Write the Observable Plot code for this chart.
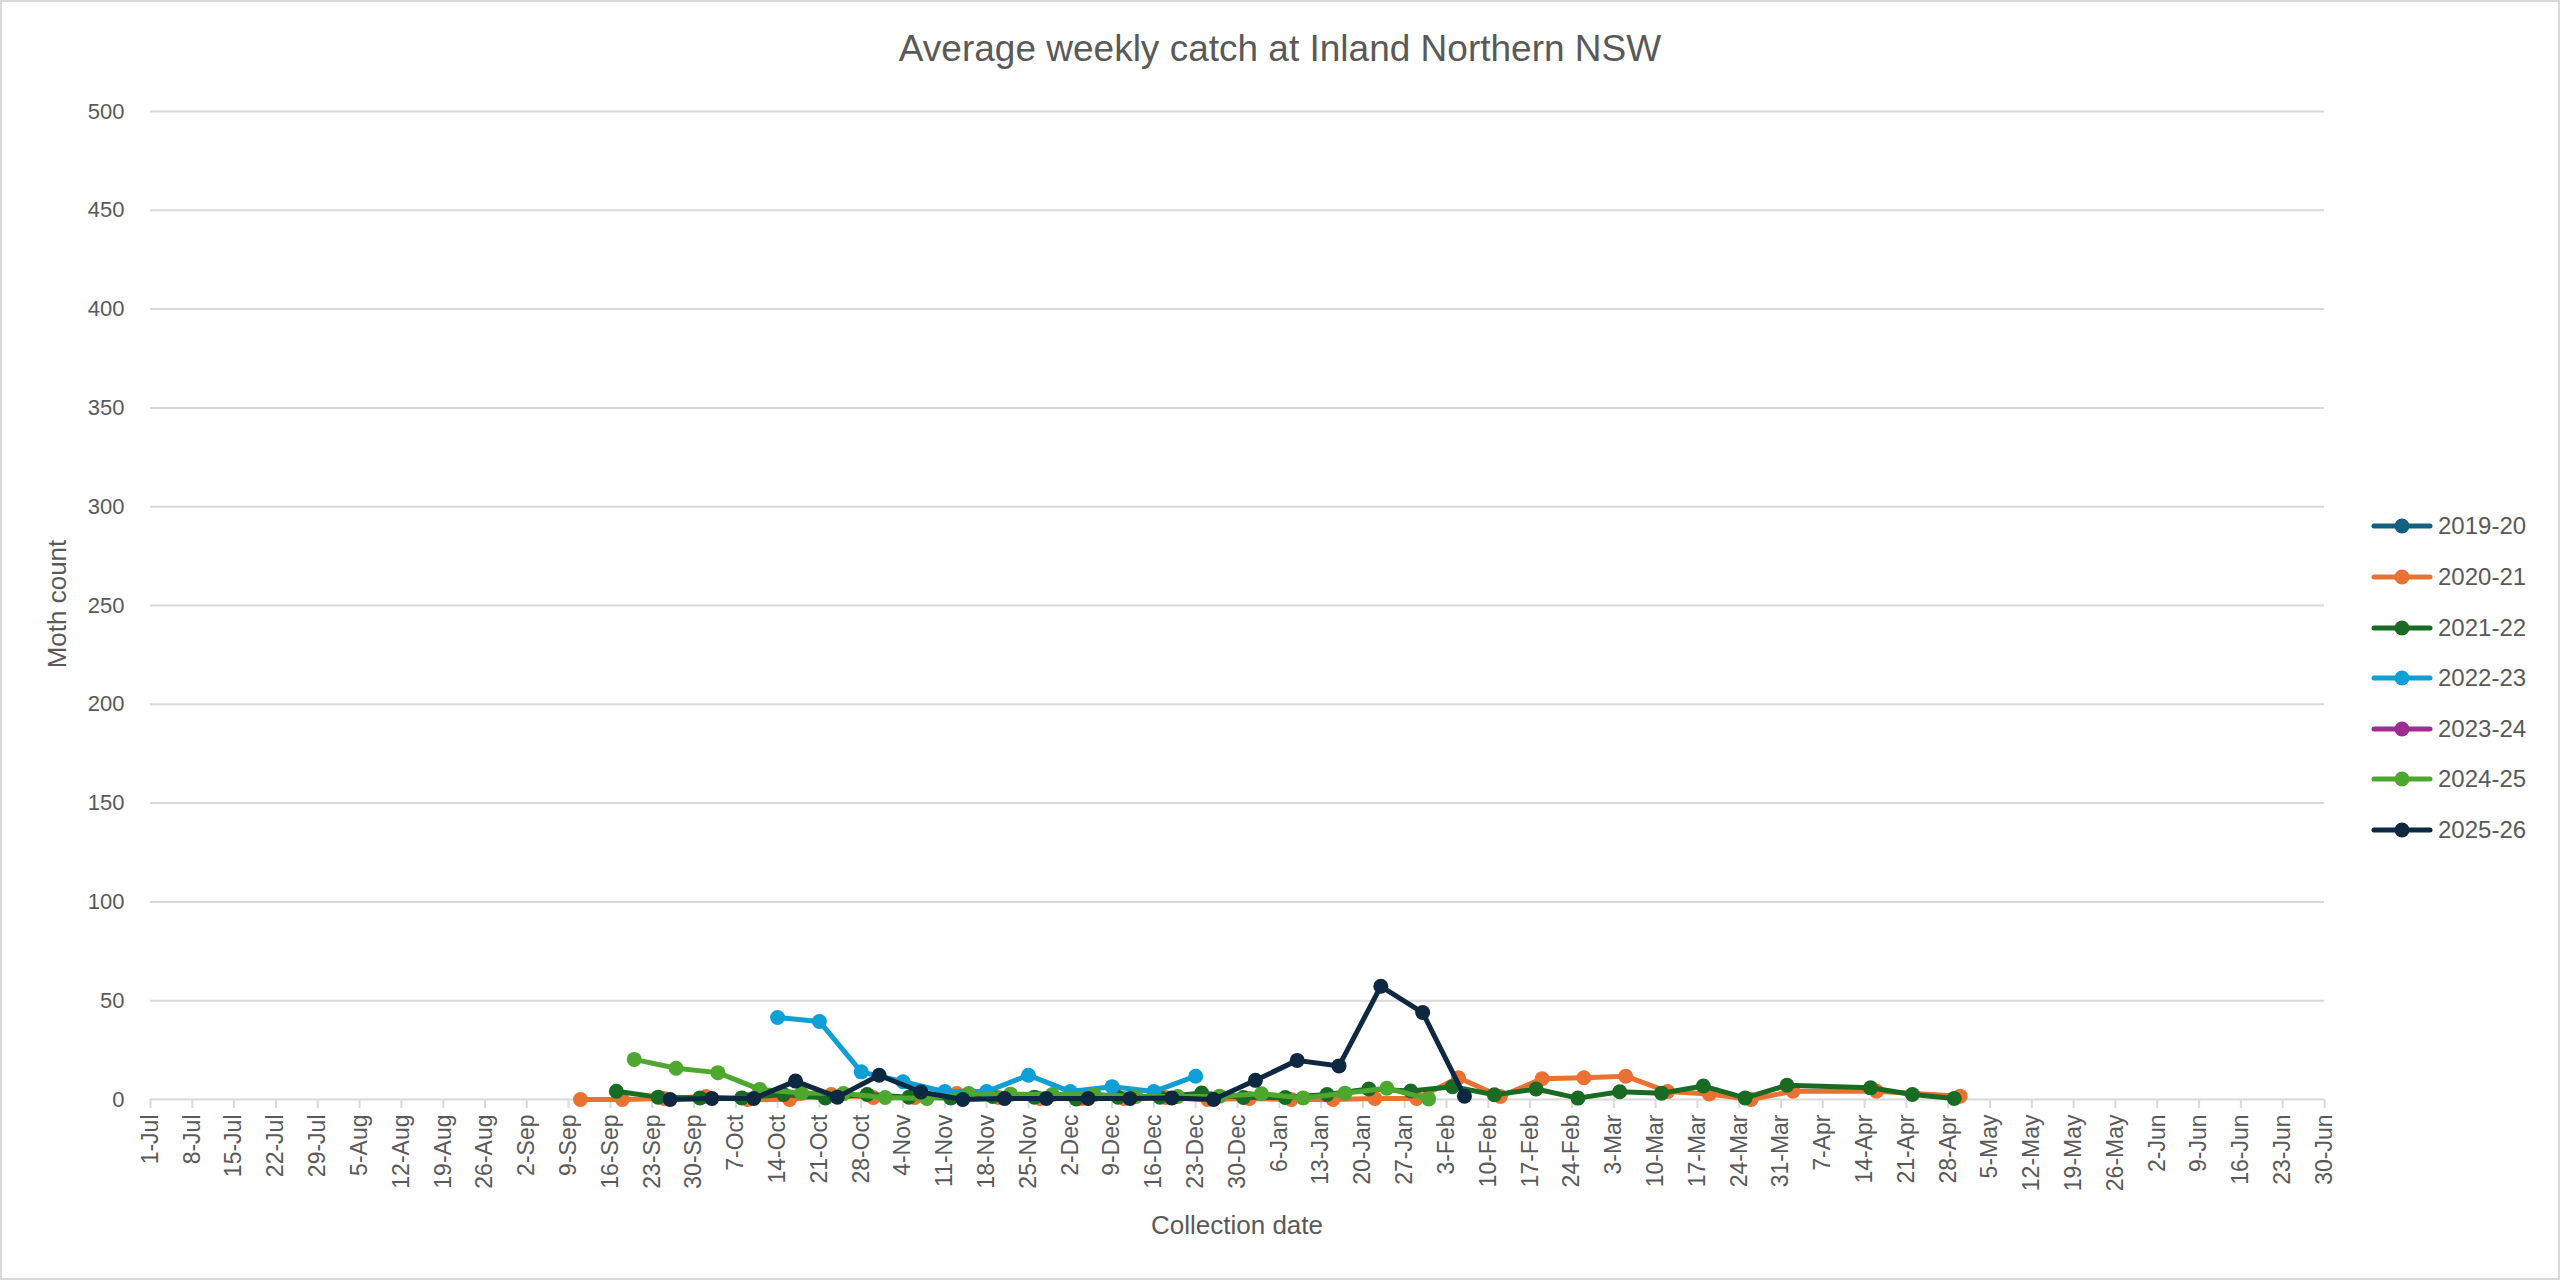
<!DOCTYPE html>
<html>
<head>
<meta charset="utf-8">
<script src="https://cdn.jsdelivr.net/npm/d3@7"></script>
<script src="https://cdn.jsdelivr.net/npm/@observablehq/plot@0.6"></script>
<style>
  html, body { margin: 0; padding: 0; background: #ffffff; }
  #chart { position: relative; width: 2560px; height: 1280px; background: #ffffff; overflow: hidden;
           font-family: "Liberation Sans", Arial, sans-serif; color: #595959; }
  #frame { position: absolute; left: 0; top: 0; width: 2560px; height: 1280px; box-sizing: border-box;
           border: 2px solid #D9D9D9; pointer-events: none; }
  #plot { position: absolute; left: 0; top: 0; }
  #title { position: absolute; left: 0; top: 30px; width: 2560px; text-align: center;
           font-family: "Liberation Sans Narrow", "Arial Narrow", "Liberation Sans", sans-serif;
           font-size: 37px; line-height: 1; color: #595959; white-space: nowrap; }
  .axtitle { position: absolute; font-size: 26px; line-height: 1; white-space: nowrap; color: #595959; }
  #ytitle { left: 57px; top: 604px; transform: translate(-50%, -50%) rotate(-90deg); }
  #xtitle { left: 1237px; top: 1225px; transform: translate(-50%, -50%); }
  #legend { position: absolute; left: 2371px; top: 0; }
  .lrow { position: absolute; left: 0; height: 30px; display: flex; align-items: center; white-space: nowrap;
          font-size: 24px; color: #595959; }
  .lrow svg { margin-right: 5px; }
</style>
</head>
<body>
<div id="chart">
  <div id="plot"></div>
  <div id="title">Average weekly catch at Inland Northern NSW</div>
  <div id="ytitle" class="axtitle">Moth count</div>
  <div id="xtitle" class="axtitle">Collection date</div>
  <div id="legend"></div>
  <div id="frame"></div>
</div>
<script>
// ---------------- data ----------------
const seasons = ["2019-20", "2020-21", "2021-22", "2022-23", "2023-24", "2024-25", "2025-26"];
const seasonColors = ["#156082", "#E97132", "#196B24", "#0F9ED5", "#A02B93", "#4EA72E", "#0E2841"];

const xTickLabels = ["1-Jul","8-Jul","15-Jul","22-Jul","29-Jul","5-Aug","12-Aug","19-Aug","26-Aug","2-Sep","9-Sep",
  "16-Sep","23-Sep","30-Sep","7-Oct","14-Oct","21-Oct","28-Oct","4-Nov","11-Nov","18-Nov","25-Nov","2-Dec","9-Dec",
  "16-Dec","23-Dec","30-Dec","6-Jan","13-Jan","20-Jan","27-Jan","3-Feb","10-Feb","17-Feb","24-Feb","3-Mar","10-Mar",
  "17-Mar","24-Mar","31-Mar","7-Apr","14-Apr","21-Apr","28-Apr","5-May","12-May","19-May","26-May","2-Jun","9-Jun",
  "16-Jun","23-Jun","30-Jun"];
const yTickValues = [0, 50, 100, 150, 200, 250, 300, 350, 400, 450, 500];

const dates2019_20 = [];
const values2019_20 = [];

const dates2020_21 = ["11-Sep","18-Sep","25-Sep","2-Oct","9-Oct","16-Oct","23-Oct","30-Oct","6-Nov","13-Nov","20-Nov",
  "27-Nov","4-Dec","11-Dec","18-Dec","25-Dec","1-Jan","8-Jan","15-Jan","22-Jan","29-Jan","5-Feb","12-Feb","19-Feb",
  "26-Feb","5-Mar","12-Mar","19-Mar","26-Mar","2-Apr","16-Apr","30-Apr"];
const values2020_21 = [0, 0, 0.5, 1.5, 0, 0, 2.5, 1, 1, 3, 1, 0.5, 0.5, 0.5, 1, 0, 0.5, 0, 0, 0.5, 0.5, 11, 1.5, 10.5,
  11, 11.8, 4, 2.8, 0, 4.2, 4.2, 1.7];

const dates2021_22 = ["17-Sep","24-Sep","1-Oct","8-Oct","15-Oct","22-Oct","29-Oct","5-Nov","12-Nov","19-Nov","26-Nov",
  "3-Dec","10-Dec","17-Dec","24-Dec","31-Dec","7-Jan","14-Jan","21-Jan","28-Jan","4-Feb","11-Feb","18-Feb","25-Feb",
  "4-Mar","11-Mar","18-Mar","25-Mar","1-Apr","15-Apr","22-Apr","29-Apr"];
const values2021_22 = [4.2, 1.2, 0.8, 0.8, 2.5, 0.8, 2.5, 1.2, 0.8, 1.5, 1.2, 0.3, 1.2, 1.2, 3.3, 1, 1, 2.5, 5.3, 4.3,
  6.5, 2.4, 5.3, 0.7, 3.9, 3.2, 6.8, 0.8, 7.2, 5.9, 2.5, 0.5];

const dates2022_23 = ["14-Oct","21-Oct","28-Oct","4-Nov","11-Nov","18-Nov","25-Nov","2-Dec","9-Dec","16-Dec","23-Dec"];
const values2022_23 = [41.5, 39.5, 14, 9, 4, 4, 12.3, 4, 6.5, 4, 11.8];

const dates2023_24 = [];
const values2023_24 = [];

const dates2024_25 = ["20-Sep","27-Sep","4-Oct","11-Oct","18-Oct","25-Oct","1-Nov","8-Nov","15-Nov","22-Nov","29-Nov",
  "6-Dec","13-Dec","20-Dec","27-Dec","3-Jan","10-Jan","17-Jan","24-Jan","31-Jan"];
const values2024_25 = [20.3, 15.8, 13.6, 5.1, 3.3, 3, 1, 0.5, 3, 2.7, 2.5, 2.5, 1.5, 1.5, 1.7, 2.9, 0.8, 3.2, 5.7, 0.3];

const dates2025_26 = ["26-Sep","3-Oct","10-Oct","17-Oct","24-Oct","31-Oct","7-Nov","14-Nov","21-Nov","28-Nov","5-Dec",
  "12-Dec","19-Dec","26-Dec","2-Jan","9-Jan","16-Jan","23-Jan","30-Jan","6-Feb"];
const values2025_26 = [0, 0.5, 0.5, 9.3, 1.2, 12.3, 3.8, 0, 0.5, 0.5, 0.5, 0.5, 0.8, 0, 9.7, 19.8, 17, 57.3, 44, 1.7];

// ---------------- helpers ----------------
const monthNames = ["Jan","Feb","Mar","Apr","May","Jun","Jul","Aug","Sep","Oct","Nov","Dec"];
function parseDay(s) {
  const [d, m] = s.split("-");
  const mi = monthNames.indexOf(m);
  const year = mi >= 6 ? 2025 : 2026; // season runs 1-Jul to 30-Jun
  return new Date(Date.UTC(year, mi, +d));
}
const seriesDates = [dates2019_20, dates2020_21, dates2021_22, dates2022_23, dates2023_24, dates2024_25, dates2025_26];
const seriesValues = [values2019_20, values2020_21, values2021_22, values2022_23, values2023_24, values2024_25, values2025_26];

const rows = [];
seasons.forEach((s, i) => {
  seriesDates[i].forEach((d, j) => rows.push({season: s, date: parseDay(d), value: seriesValues[i][j]}));
});
const xTicks = xTickLabels.map(parseDay);
const fmt = d3.utcFormat("%-d-%b");

const regular = "'Liberation Sans', Arial, sans-serif";

const marks = [
  Plot.gridY(yTickValues.filter(v => v > 0), {stroke: "#D9D9D9", strokeOpacity: 1, strokeWidth: 2}),
  Plot.axisY(yTickValues, {tickSize: 0, tickPadding: 26, fontSize: 22, fontFamily: regular, fill: "#595959", label: null}),
  Plot.ruleY([0], {stroke: "#D9D9D9", strokeWidth: 2}),
  Plot.axisX(xTicks, {tickSize: 9, tickPadding: 6, tickRotate: -90, tickFormat: fmt, fontSize: 23,
    fontFamily: regular, stroke: "#D9D9D9", strokeWidth: 2, fill: "#595959", label: null})
];
seasons.forEach((s, i) => {
  const data = rows.filter(r => r.season === s);
  marks.push(Plot.line(data, {x: "date", y: "value", stroke: seasonColors[i], strokeWidth: 5,
    strokeLinejoin: "round", strokeLinecap: "round"}));
  marks.push(Plot.dot(data, {x: "date", y: "value", r: 7.5, fill: seasonColors[i], stroke: "none"}));
});

const svg = Plot.plot({
  width: 2560,
  height: 1280,
  marginLeft: 150,
  marginRight: 236,
  marginTop: 111,
  marginBottom: 181,
  style: {background: "transparent", color: "#595959", fontFamily: regular},
  x: {type: "utc", domain: [parseDay("1-Jul"), parseDay("30-Jun")]},
  y: {domain: [0, 500]},
  marks
});
document.getElementById("plot").appendChild(svg);

// ---------------- legend ----------------
const legendY = [526, 577, 628, 678, 729, 779, 830];
const legend = document.getElementById("legend");
seasons.forEach((s, i) => {
  const row = document.createElement("div");
  row.className = "lrow";
  row.style.top = (legendY[i] - 15) + "px";
  const ns = "http://www.w3.org/2000/svg";
  const sw = document.createElementNS(ns, "svg");
  sw.setAttribute("width", 62); sw.setAttribute("height", 20);
  const ln = document.createElementNS(ns, "line");
  ln.setAttribute("x1", 3); ln.setAttribute("x2", 59); ln.setAttribute("y1", 10); ln.setAttribute("y2", 10);
  ln.setAttribute("stroke", seasonColors[i]); ln.setAttribute("stroke-width", 5); ln.setAttribute("stroke-linecap", "round");
  const c = document.createElementNS(ns, "circle");
  c.setAttribute("cx", 31); c.setAttribute("cy", 10); c.setAttribute("r", 7.5); c.setAttribute("fill", seasonColors[i]);
  sw.appendChild(ln); sw.appendChild(c);
  row.appendChild(sw);
  const t = document.createElement("span");
  t.textContent = s;
  row.appendChild(t);
  legend.appendChild(row);
});
</script>
</body>
</html>
